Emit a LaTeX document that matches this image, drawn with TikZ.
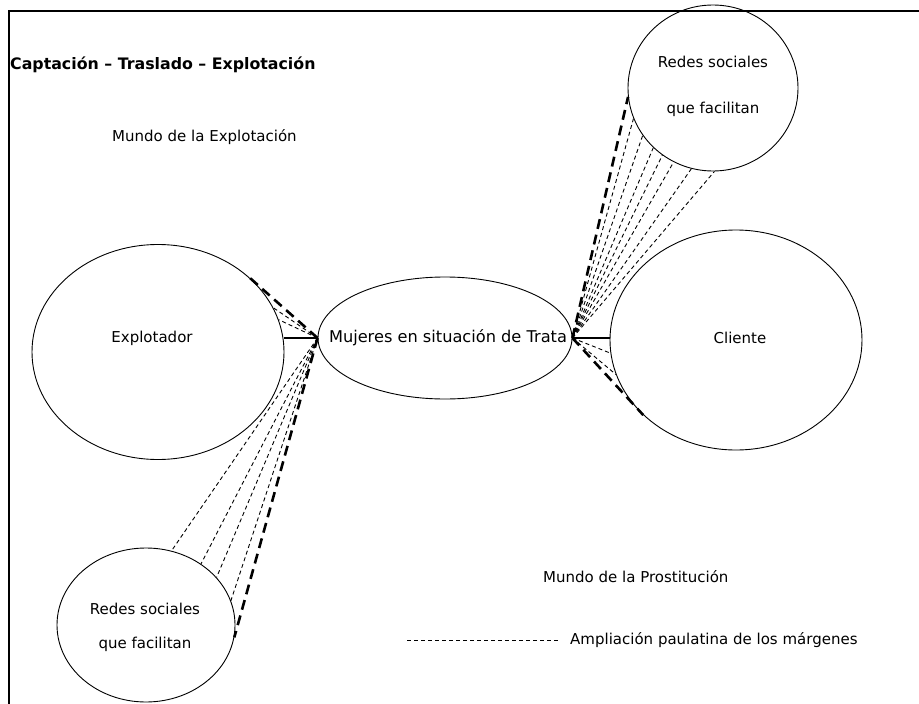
\documentclass[tikz,border=0pt]{standalone}
\usepackage{fontspec}
\setmainfont{DejaVu Sans}
\usetikzlibrary{shapes.geometric}
\begin{document}
\begin{tikzpicture}[x=1pt,y=-1pt,
  oval/.style={draw, ellipse, line width=0.9pt, inner sep=0pt},
  lbl/.style={font=\fontsize{15}{18}\selectfont, inner sep=0pt},
  thickdash/.style={line width=2.6pt, dash pattern=on 10pt off 6pt},
  thindash/.style={line width=0.9pt, dash pattern=on 4pt off 3pt},
  link/.style={line width=2.4pt}]
\useasboundingbox (0,0) rectangle (919,704);
\draw[line width=2pt] (919,11) -| (9,704);
% ellipses
\node[oval, minimum width=252pt, minimum height=215pt] (expl) at (158,352) {};
\node[oval, minimum width=254pt, minimum height=122pt] (muj) at (445,338) {};
\node[oval, minimum width=252pt, minimum height=220pt] (cli) at (736,340) {};
\node[oval, minimum width=170pt, minimum height=166pt] (tr) at (713,88) {};
\node[oval, minimum width=178pt, minimum height=154pt] (bl) at (146,625) {};
% texts
\node[lbl] (tExpl) at (152,338) {Explotador};
\node[lbl, font=\fontsize{16.2}{19}\selectfont] (tMuj) at (448,338) {Mujeres en situación de Trata};
\node[lbl] (tCli) at (740,338) {Cliente};
\node[lbl, align=center, font=\fontsize{15}{46}\selectfont] (tTr) at (713,86) {Redes sociales\\que facilitan};
\node[lbl, align=center, font=\fontsize{15}{34}\selectfont] (tBl) at (145,627) {Redes sociales\\que facilitan};
\node[lbl, anchor=west, font=\fontsize{15.8}{19}\selectfont\bfseries] (title) at (10,65) {Captación – Traslado – Explotación};
\node[lbl, anchor=west] (mexp) at (112,137) {Mundo de la Explotación};
\node[lbl, anchor=west] (mpro) at (543,577) {Mundo de la Prostitución};
\node[lbl, anchor=west] (leg) at (570,640) {Ampliación paulatina de los márgenes};
\coordinate (legS) at (407,640);
\draw[thindash, line width=0.8pt] (legS) -- ([xshift=-10pt]leg.west);
% left connectors
\draw[link] (muj.west) -- (muj.west -| expl.east);
\draw[thickdash] (muj.west) -- (expl.41);
\foreach \a in {21,15} \draw[thindash] (muj.west) -- (expl.\a);
\draw[thickdash] (muj.west) -- (bl.352);
\foreach \a in {71,48,34,16} \draw[thindash] (muj.west) -- (bl.\a);
% right connectors
\draw[link] (muj.east) -- (muj.east -| cli.west);
\draw[thickdash] (muj.east) -- (tr.186);
\foreach \a in {201,214,225,233,242,255,271} \draw[thindash] (muj.east) -- (tr.\a);
\draw[thickdash] (muj.east) -- (cli.219);
\foreach \a in {186,196} \draw[thindash] (muj.east) -- (cli.\a);
\end{tikzpicture}
\end{document}
